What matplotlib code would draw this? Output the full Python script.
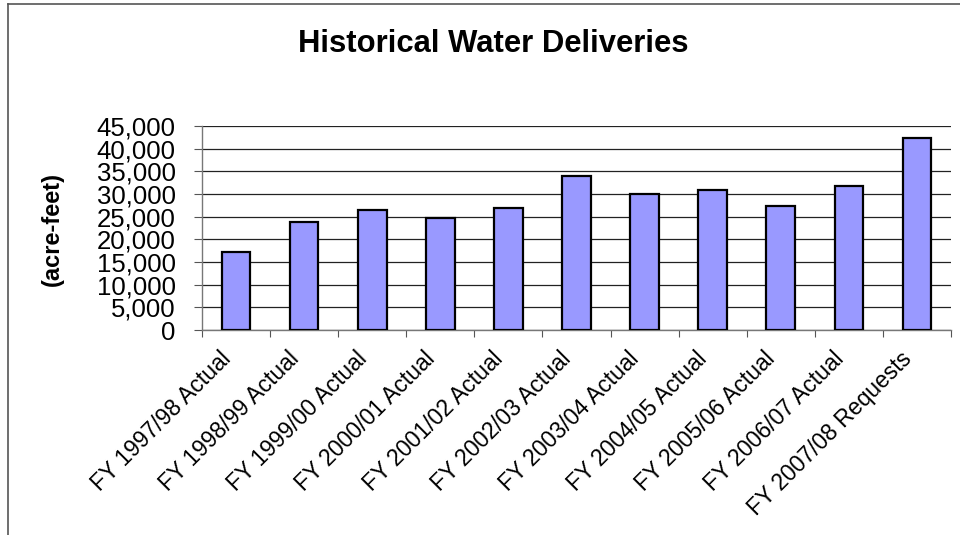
import matplotlib
matplotlib.use("Agg")
import matplotlib.pyplot as plt
from matplotlib.lines import Line2D
from matplotlib.transforms import ScaledTranslation
import numpy as np

categories = ["FY 1997/98 Actual", "FY 1998/99 Actual", "FY 1999/00 Actual",
              "FY 2000/01 Actual", "FY 2001/02 Actual", "FY 2002/03 Actual",
              "FY 2003/04 Actual", "FY 2004/05 Actual", "FY 2005/06 Actual",
              "FY 2006/07 Actual", "FY 2007/08 Requests"]
deliveries = [17150, 23750, 26450, 24700, 26850, 33950, 30000, 30900, 27350, 31750, 42300]
yticks = [0, 5000, 10000, 15000, 20000, 25000, 30000, 35000, 40000, 45000]
ytick_labels = ["0", "5,000", "10,000", "15,000", "20,000", "25,000",
                "30,000", "35,000", "40,000", "45,000"]

plt.rcParams['font.family'] = ['Liberation Sans', 'DejaVu Sans']

W, H = 960, 535
fig = plt.figure(figsize=(W / 100, H / 100), dpi=100)
ax = fig.add_axes([202 / W, 1 - 330 / H, (951 - 202) / W, (330 - 126) / H])

x = np.arange(len(categories))
ax.bar(x, deliveries, width=0.42, color="#9999FF", edgecolor="black",
       linewidth=1.6, zorder=3)

ax.set_xlim(-0.5, len(categories) - 0.5)
ax.set_ylim(0, 45000)
ax.set_yticks(yticks)
ax.set_yticklabels(ytick_labels, fontsize=18.5)
ax.yaxis.grid(True, color="#222222", linewidth=0.9, zorder=0)
ax.tick_params(axis="y", direction="out", length=6, width=0.8,
               color="#555555", pad=13)

# category labels, rotated 45 degrees
ax.set_xticks(x)
ax.set_xticklabels([])
ax.tick_params(axis="x", which="major", length=0)
offset = ScaledTranslation(-17 / 100, -17 / 100, fig.dpi_scale_trans)
for xi, name in zip(x, categories):
    ax.text(xi, 0, name, transform=ax.get_xaxis_transform() + offset,
            fontsize=16.5, rotation=45, ha="right", va="top",
            rotation_mode="anchor")
ax.set_xticks(np.arange(-0.5, len(categories)), minor=True)
ax.tick_params(axis="x", which="minor", direction="out", length=5,
               width=0.8, color="#555555")

for s in ["top", "right"]:
    ax.spines[s].set_visible(False)
for s in ["left", "bottom"]:
    ax.spines[s].set_color("#777777")
    ax.spines[s].set_linewidth(1.0)

fig.text(493 / W, 1 - 52 / H, "Historical Water Deliveries", fontsize=22.3,
         fontweight="bold", ha="center", va="baseline")
fig.text(52 / W, 1 - 229 / H, "(acre-feet)", fontsize=17, fontweight="bold",
         rotation=90, ha="center", va="center")

# outer chart border (left and top edges visible)
fig.add_artist(Line2D([8 / W, 8 / W], [0, 1 - 4 / H], transform=fig.transFigure,
                      color="#555555", linewidth=1.2))
fig.add_artist(Line2D([8 / W, 1], [1 - 4 / H, 1 - 4 / H], transform=fig.transFigure,
                      color="#555555", linewidth=1.2))

fig.savefig("out.png", dpi=100)
